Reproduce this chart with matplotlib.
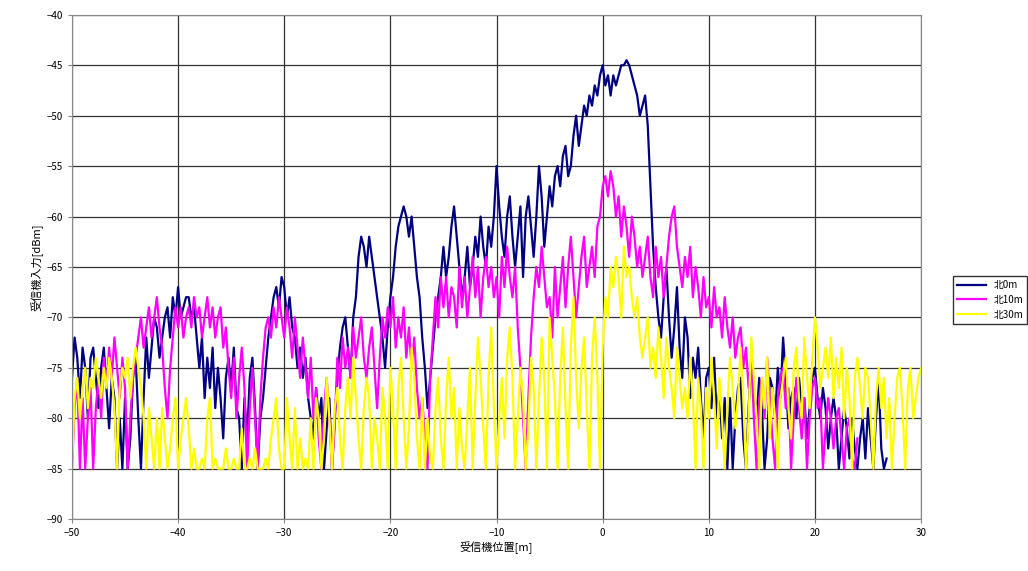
import numpy as np
import matplotlib.pyplot as plt

plt.rcParams['font.family'] = ['Noto Sans CJK JP', 'DejaVu Sans']

# received level [dBm], sampled every 0.25 m starting at -50 m
step = 0.25
x_start = -50

north_0m = [
    -76, -72, -74, -78, -73, -75, -80, -74, -73, -76, -79, -75, -73, -77, -81, -76,
    -78, -85, -80, -85, -78, -85, -82, -76, -74, -80, -85, -78, -72, -76, -73, -70,
    -71, -74, -72, -70, -69, -72, -68, -70, -67, -70, -69, -68, -68, -70, -69, -72,
    -75, -72, -78, -74, -77, -73, -79, -75, -78, -82, -76, -74, -77, -73, -79, -80,
    -85, -78, -82, -76, -74, -79, -85, -80, -78, -75, -72, -70, -68, -67, -69, -66,
    -67, -70, -68, -71, -72, -75, -73, -76, -74, -78, -80, -82, -77, -80, -78, -85,
    -81, -78, -85, -80, -76, -73, -71, -70, -73, -76, -70, -68, -64, -62, -63, -65,
    -62, -64, -66, -68, -70, -72, -75, -71, -68, -66, -63, -61, -60, -59, -60, -62,
    -60, -63, -66, -68, -72, -75, -79, -76, -73, -70, -68, -66, -63, -66, -64, -61,
    -59, -62, -65, -68, -66, -63, -67, -65, -62, -64, -60, -63, -65, -61, -63, -60,
    -55, -59, -62, -64, -60, -58, -62, -65, -62, -59, -66, -60, -58, -61, -64, -60,
    -55, -58, -63, -60, -57, -59, -56, -55, -57, -54, -53, -56, -55, -52, -50, -53,
    -51, -49, -50, -48, -49, -47, -48, -46, -45, -47, -46, -48, -46, -47, -46, -45,
    -45, -44.5, -45, -46, -47, -48, -50, -49, -48, -51, -57, -63, -67, -70, -72, -68,
    -65, -70, -74, -71, -67, -73, -76, -70, -72, -78, -74, -76, -73, -78, -82, -76,
    -75, -79, -74, -80, -77, -82, -78, -85, -78, -85, -80, -77, -76, -82, -85, -79,
    -74, -77, -80, -76, -79, -85, -82, -76, -77, -80, -75, -78, -72, -76, -81, -78,
    -77, -80, -76, -79, -78, -82, -79, -76, -75, -78, -80, -77, -79, -83, -80, -78,
    -80, -85, -82, -79, -81, -84, -80, -83, -85, -82, -80, -84, -79, -82, -85, -80,
    -76, -83, -85, -84,
]

north_10m = [
    -85, -79, -76, -85, -78, -85, -80, -77, -85, -79, -76, -80, -74, -77, -73, -76,
    -72, -75, -78, -74, -77, -85, -80, -76, -74, -72, -70, -73, -71, -69, -72, -70,
    -68, -71, -73, -77, -80, -75, -72, -69, -71, -69, -72, -70, -69, -71, -68, -70,
    -69, -72, -70, -68, -71, -69, -72, -70, -69, -73, -71, -75, -78, -74, -80, -76,
    -73, -77, -85, -79, -75, -80, -85, -78, -74, -71, -70, -72, -69, -71, -68, -70,
    -72, -69, -71, -74, -70, -73, -76, -72, -75, -78, -74, -80, -77, -82, -85, -79,
    -76, -80, -85, -81, -74, -77, -72, -75, -73, -76, -71, -74, -72, -70, -74, -76,
    -73, -71, -75, -79, -74, -70, -72, -69, -71, -68, -73, -70, -72, -69, -74, -71,
    -75, -72, -77, -80, -78, -82, -85, -76, -72, -68, -71, -66, -69, -66, -70, -67,
    -68, -71, -65, -69, -66, -70, -67, -64, -68, -65, -70, -66, -64, -67, -65, -68,
    -66, -70, -64, -67, -63, -66, -68, -65, -71, -75, -80, -85, -78, -72, -68, -65,
    -67, -63, -66, -69, -68, -72, -65, -70, -67, -64, -69, -65, -62, -66, -70, -67,
    -64, -62, -67, -65, -63, -66, -61, -60, -57, -56, -58, -55.5, -57, -60, -58, -62,
    -59, -61, -64, -60, -62, -65, -63, -66, -64, -62, -66, -68, -63, -66, -64, -68,
    -65, -62, -60, -59, -63, -65, -67, -64, -66, -63, -68, -65, -67, -70, -66, -69,
    -68, -71, -67, -70, -69, -72, -68, -71, -73, -70, -74, -72, -71, -75, -73, -77,
    -74, -80, -85, -78, -76, -80, -74, -78, -82, -85, -78, -76, -75, -79, -77, -85,
    -80, -76, -79, -82, -78, -85, -80, -77, -76, -79, -78, -85, -81, -78, -80, -83,
    -80, -79, -82, -85, -81, -80, -84, -85, -82,
]

north_30m = [
    -85, -78, -76, -80, -77, -75, -79, -76, -77, -74, -76, -78, -75, -77, -74, -76,
    -79, -85, -77, -75, -76, -74, -78, -75, -73, -75, -77, -80, -85, -79, -82, -85,
    -80, -85, -79, -82, -85, -83, -80, -78, -85, -82, -80, -78, -81, -85, -83, -85,
    -85, -84, -85, -80, -78, -85, -84, -85, -85, -85, -83, -85, -85, -84, -85, -85,
    -81, -85, -85, -84, -85, -83, -85, -85, -85, -84, -85, -82, -80, -78, -83, -85,
    -85, -78, -82, -85, -79, -85, -82, -85, -84, -85, -80, -85, -78, -80, -85, -82,
    -76, -80, -85, -79, -77, -82, -85, -79, -76, -80, -74, -78, -82, -85, -79, -76,
    -78, -85, -80, -82, -85, -77, -80, -85, -75, -79, -85, -77, -74, -80, -85, -81,
    -73, -76, -82, -85, -78, -85, -80, -84, -85, -79, -76, -82, -85, -78, -74, -80,
    -77, -85, -79, -83, -85, -80, -75, -85, -78, -72, -76, -81, -85, -76, -71, -79,
    -85, -80, -76, -82, -74, -71, -76, -85, -80, -75, -78, -85, -81, -74, -77, -85,
    -78, -72, -76, -85, -70, -74, -78, -85, -76, -71, -79, -85, -73, -68, -76, -81,
    -75, -72, -79, -85, -74, -70, -76, -85, -73, -68, -70, -65, -67, -64, -66, -70,
    -63, -66, -65, -68, -70, -68, -72, -74, -72, -70, -75, -73, -76, -71, -74, -78,
    -72, -75, -77, -80, -73, -76, -79, -77, -80, -74, -78, -85, -76, -79, -85, -77,
    -80, -74, -78, -83, -76, -80, -85, -79, -74, -77, -81, -78, -73, -78, -85, -80,
    -72, -76, -80, -85, -76, -79, -74, -82, -77, -80, -85, -78, -76, -74, -79, -82,
    -75, -73, -78, -80, -72, -76, -79, -74, -70, -73, -77, -75, -73, -76, -72, -78,
    -74, -77, -73, -80, -75, -78, -85, -76, -74, -77, -80, -75, -76, -80, -85, -78,
    -75, -79, -76, -82, -78, -85, -80, -76, -75, -79, -85, -77, -75, -80, -78, -76,
    -75,
]

series = [('北0m', north_0m, '#000080'),
          ('北10m', north_10m, '#ff00ff'),
          ('北30m', north_30m, '#ffff00')]

fig = plt.figure(figsize=(10.28, 5.71), dpi=100)
ax = fig.add_axes([0.070, 0.091, 0.826, 0.883])

for name, vals, col in series:
    xs = x_start + step * np.arange(len(vals))
    ax.plot(xs, vals, color=col, lw=1.6, label=name)

ax.set_xlim(-50, 30)
ax.set_ylim(-90, -40)
ax.set_xticks(np.arange(-50, 31, 10))
ax.set_yticks(np.arange(-90, -39, 5))
ax.grid(True, color='#333333', lw=0.9)
ax.set_axisbelow(True)
for s in ax.spines.values():
    s.set_color('#888888')
ax.tick_params(labelsize=7, length=3, color='#888888')
ax.set_xlabel('受信機位置[m]', fontsize=8, labelpad=2)
ax.set_ylabel('受信機入力[dBm]', fontsize=8, labelpad=2)

fig.legend(loc='center left', bbox_to_anchor=(0.922, 0.475), fontsize=7,
           frameon=True, fancybox=False, edgecolor='black', handlelength=3,
           borderpad=0.4, labelspacing=0.5)

fig.savefig('out.png', dpi=100)
